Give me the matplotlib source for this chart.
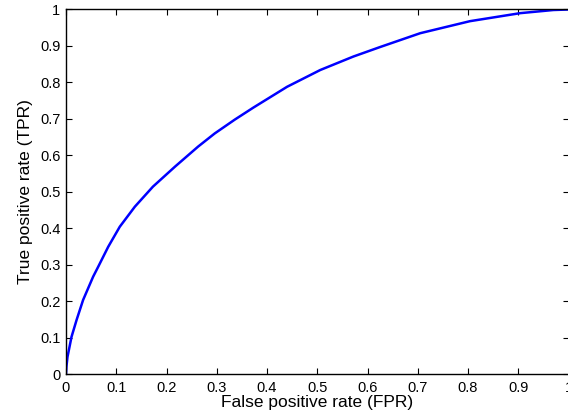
import numpy as np
import matplotlib.pyplot as plt
from matplotlib.ticker import FuncFormatter

# ROC curve points
fpr = [0, 0.001, 0.003, 0.011, 0.021, 0.034, 0.054, 0.064, 0.084, 0.107,
       0.137, 0.173, 0.217, 0.263, 0.296, 0.336, 0.373, 0.44, 0.506, 0.572,
       0.625, 0.705, 0.804, 0.904, 0.97, 1.0]
tpr = [0, 0.022, 0.047, 0.102, 0.148, 0.203, 0.267, 0.294, 0.349, 0.404,
       0.459, 0.514, 0.569, 0.624, 0.660, 0.698, 0.731, 0.788, 0.834, 0.871,
       0.897, 0.935, 0.968, 0.990, 0.9986, 1.0]
ticks = np.round(np.arange(0, 1.01, 0.1), 1)

plt.rcParams['font.family'] = ['Liberation Sans', 'DejaVu Sans']

fig = plt.figure(figsize=(5.68, 4.19), dpi=100)
ax = fig.add_axes([66 / 568, 1 - 374 / 419, 502.5 / 568, 364.5 / 419])

ax.plot(fpr, tpr, color='#0000ff', lw=1.8, solid_joinstyle='round')

ax.set_xlim(0, 1)
ax.set_ylim(0, 1)
ax.set_xticks(ticks)
ax.set_yticks(ticks)
fmt = FuncFormatter(lambda v, p: '%g' % v)
ax.xaxis.set_major_formatter(fmt)
ax.yaxis.set_major_formatter(fmt)
ax.tick_params(direction='in', length=4, width=0.8, top=True, right=True,
               labelsize=10.5, colors='black')
ax.tick_params(axis='x', pad=5)
ax.tick_params(axis='y', pad=4)
for s in ax.spines.values():
    s.set_linewidth(1.0)

ax.set_xlabel('False positive rate (FPR)', fontsize=12.5, labelpad=0)
ax.set_ylabel('True positive rate (TPR)', fontsize=12.5, labelpad=5)

fig.savefig('out.png', dpi=100)
